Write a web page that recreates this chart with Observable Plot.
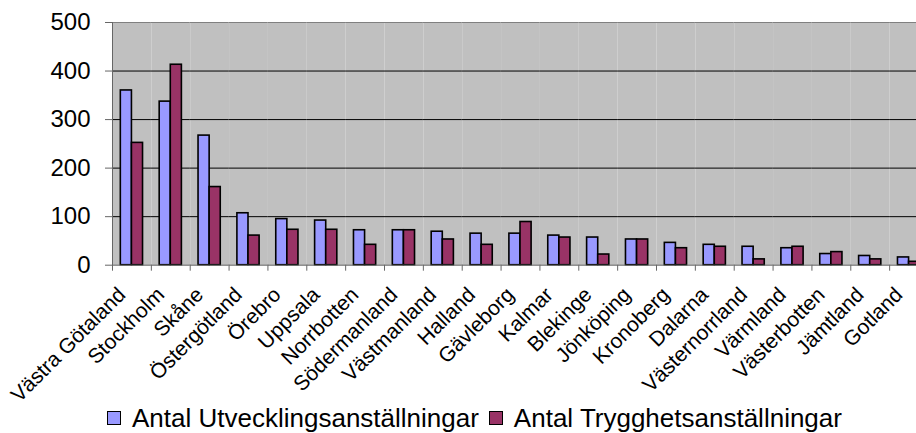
<!DOCTYPE html>
<html><head><meta charset="utf-8">
<script src="https://cdn.jsdelivr.net/npm/d3@7"></script>
<script src="https://cdn.jsdelivr.net/npm/@observablehq/plot@0.6"></script>
<style>
html,body{margin:0;padding:0;background:#fff;overflow:hidden;width:916px;height:433px;}
#chart{position:relative;width:916px;height:433px;overflow:hidden;font-family:"Liberation Sans",Arial,sans-serif;}
#legend{position:absolute;left:107px;top:403px;display:flex;align-items:center;font-size:26px;line-height:30px;color:#000;white-space:nowrap;}
.sw{width:12px;height:12px;border:1px solid #000;display:inline-block;margin-right:11px;}
.item{display:flex;align-items:center;margin-right:10px;}
</style></head><body><div id="chart"></div>
<script>
const regions = ["Västra Götaland","Stockholm","Skåne","Östergötland","Örebro","Uppsala","Norrbotten","Södermanland","Västmanland","Halland","Gävleborg","Kalmar","Blekinge","Jönköping","Kronoberg","Dalarna","Västernorrland","Värmland","Västerbotten","Jämtland","Gotland"];
const seriesNames = ["Antal Utvecklingsanställningar","Antal Trygghetsanställningar"];
const utveckling = [360,337,267,107,95,92,72,72,69,65,65,61,57,53,46,42,38,35,23,19,16];
const trygghet = [252,413,161,61,73,73,42,72,53,42,89,57,22,53,35,38,12,38,27,12,7];
const yTicks = [0,100,200,300,400,500];
const colors = ["#9999FF","#993366"];

const data = regions.flatMap((r,i)=>[
  {region:r, series:seriesNames[0], value:utveckling[i]},
  {region:r, series:seriesNames[1], value:trygghet[i]}
]);

// category boundary tick marks on the x axis (drawn per facet at its left edge)
function boundaryTicks(index, scales, values, dims) {
  const y0 = scales.y(0);
  const g = d3.create("svg:g");
  g.append("line")
    .attr("x1", dims.marginLeft + 0.5).attr("x2", dims.marginLeft + 0.5)
    .attr("y1", y0).attr("y2", y0 + 6)
    .attr("stroke", "#666");
  return g.node();
}

const plot = Plot.plot({
  width: 916, height: 400,
  marginLeft: 112, marginRight: -12, marginTop: 22, marginBottom: 135.3,
  style: {fontFamily: "Liberation Sans, Arial, sans-serif", background: "transparent", overflow: "visible", color: "#000"},
  fx: {domain: regions, padding: 0, round: false, axis: null, label: null},
  x: {domain: seriesNames, paddingInner: 0, paddingOuter: 0.75, round: false, axis: null},
  y: {domain: [0,500], axis: null},
  color: {domain: seriesNames, range: colors},
  marks: [
    Plot.frame({fill: "#C0C0C0", stroke: "none"}),
    Plot.gridY(yTicks.filter(t => t > 0 && t < 500), {stroke: "#000", strokeOpacity: 1}),
    Plot.ruleY([500], {stroke: "#808080"}),
    Plot.barY(data, {fx: "region", x: "series", y: "value", fill: "series", stroke: "#000", strokeWidth: 1.6}),
    Plot.ruleY([0], {stroke: "#666"}),
    boundaryTicks,
    Plot.frame({anchor: "left", facetAnchor: "left", stroke: "#666"}),
    Plot.axisY({ticks: yTicks, tickSize: 7, tickPadding: 15, fontSize: 24, label: null, color: "#000", stroke: "#666"}),
    Plot.axisFx({anchor: "bottom", tickRotate: -45, tickSize: 0, tickPadding: 26, dx: -10, fontSize: 21, label: null, color: "#000"})
  ]
});
document.getElementById("chart").appendChild(plot);

const legend = document.createElement("div");
legend.id = "legend";
seriesNames.forEach((s,i) => {
  const it = document.createElement("div");
  it.className = "item";
  const sw = document.createElement("span");
  sw.className = "sw";
  sw.style.background = colors[i];
  it.appendChild(sw);
  it.appendChild(document.createTextNode(s));
  legend.appendChild(it);
});
document.getElementById("chart").appendChild(legend);
</script></body></html>
